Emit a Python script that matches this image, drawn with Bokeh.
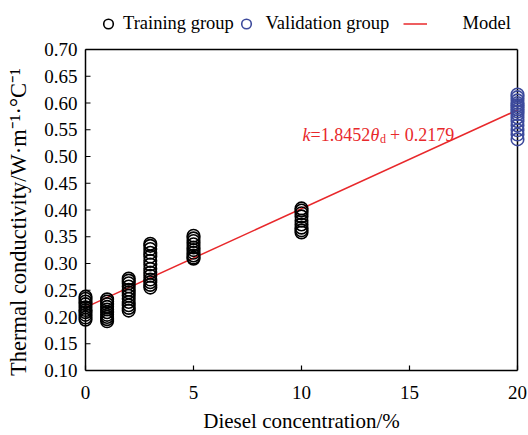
from bokeh.plotting import figure
from bokeh.models import Legend, LegendItem, FixedTicker
from bokeh.core.properties import value
from bokeh.embed import file_html
from bokeh.resources import INLINE

# ---------------- data ----------------
train_x0 = [0.238, 0.234, 0.229, 0.224, 0.218, 0.213, 0.209, 0.204, 0.199, 0.195]
train_x1 = [0.233, 0.229, 0.224, 0.219, 0.214, 0.209, 0.204, 0.200, 0.196, 0.192]
train_x2 = [0.272, 0.268, 0.263, 0.257, 0.251, 0.246, 0.240, 0.234, 0.228, 0.222, 0.217, 0.212]
train_x3 = [0.337, 0.333, 0.327, 0.320, 0.313, 0.305, 0.298, 0.290, 0.283, 0.277, 0.270, 0.265, 0.260, 0.255]
train_x5 = [0.352, 0.347, 0.342, 0.336, 0.330, 0.325, 0.320, 0.315, 0.311, 0.309]
train_x10 = [0.403, 0.399, 0.394, 0.388, 0.380, 0.373, 0.367, 0.362, 0.358]
train_conc = [0, 1, 2, 3, 5, 10]
valid_conc = 20
valid_vals = [0.616, 0.611, 0.605, 0.600, 0.596, 0.592, 0.588, 0.584, 0.579, 0.573,
              0.566, 0.558, 0.549, 0.541, 0.532]
model_x = [0, 20]
model_y = [0.2179, 0.5869]
x_ticks = [0, 5, 10, 15, 20]
y_ticks = [0.10, 0.15, 0.20, 0.25, 0.30, 0.35, 0.40, 0.45, 0.50, 0.55, 0.60, 0.65, 0.70]
y_tick_labels = ["0.10", "0.15", "0.20", "0.25", "0.30", "0.35", "0.40",
                 "0.45", "0.50", "0.55", "0.60", "0.65", "0.70"]

train_groups = [train_x0, train_x1, train_x2, train_x3, train_x5, train_x10]
tx, ty = [], []
for c, vals in zip(train_conc, train_groups):
    tx += [c] * len(vals)
    ty += vals
vx = [valid_conc] * len(valid_vals)

FONT = "Liberation Serif"
NB = "\u00a0"

# px per x unit = 21.6 ; px per y unit = 535
xpad = 8 / 21.6
ytop = 49 / 535.0   # room above the box for the legend
p = figure(frame_width=448, frame_height=370,
           x_range=(x_ticks[0] - xpad, x_ticks[-1] + xpad),
           y_range=(y_ticks[0], y_ticks[-1] + ytop),
           output_backend="svg", toolbar_location=None,
           min_border_left=77, min_border_right=3, min_border_top=0, min_border_bottom=65)
p.grid.visible = False
p.outline_line_color = None

for ax in (p.xaxis, p.yaxis):
    ax.axis_line_width = 1.5
    ax.axis_line_color = "black"
    ax.major_tick_in = 5
    ax.major_tick_out = 0
    ax.major_tick_line_width = 1.2
    ax.minor_tick_line_color = None
    ax.major_label_text_font = FONT
    ax.major_label_text_font_size = "19px"
    ax.major_label_text_color = "black"
    ax.axis_label_text_font = FONT
    ax.axis_label_text_font_style = "normal"
    ax.axis_label_text_color = "black"

p.xaxis.ticker = FixedTicker(ticks=x_ticks)
p.xaxis.bounds = (x_ticks[0], x_ticks[-1])
p.xaxis.axis_label_text_font_size = "21px"
p.yaxis.axis_label_text_font_size = "22.5px"
p.yaxis.ticker = FixedTicker(ticks=y_ticks)
p.yaxis.major_label_overrides = {t: l for t, l in zip(y_ticks, y_tick_labels)}
p.yaxis.axis_line_color = None
p.yaxis.major_tick_line_color = None
p.xaxis.major_label_standoff = 15
p.yaxis.major_label_standoff = 0
p.xaxis.axis_label = "Diesel concentration/%"
p.yaxis.axis_label = "Thermal conductivity/W\u00b7m\u207b\u00b9\u00b7\u00b0C\u207b\u00b9" + NB * 13
p.xaxis.axis_label_standoff = 7
p.yaxis.axis_label_standoff = 10

# box: left axis line, top and right edges
p.segment(x0=[x_ticks[0], x_ticks[0], x_ticks[-1]],
          y0=[y_ticks[0], y_ticks[-1], y_ticks[0]],
          x1=[x_ticks[0], x_ticks[-1], x_ticks[-1]],
          y1=[y_ticks[-1], y_ticks[-1], y_ticks[-1]],
          line_color="black", line_width=1.5)
# inward ticks on the left axis
p.ray(x=[x_ticks[0]] * len(y_ticks), y=y_ticks, length=5, length_units="screen",
      angle=0, line_color="black", line_width=1.2)

line_r = p.line(model_x, model_y, line_color="#e8282b", line_width=1.5)
tr = p.scatter(tx, ty, marker="circle", size=12.5, line_color="black", line_width=1.6,
               fill_color="white", fill_alpha=0.0)
vr = p.scatter(vx, valid_vals, marker="circle", size=12.5, line_color="#3d4a9c", line_width=1.6,
               fill_color="white", fill_alpha=0.0)

# equation annotation
eq_x, eq_y = 10.05, 0.541
red = "#e8282b"
parts = [("k", 0, "18px", "italic", 0),
         ("=1.8452", 8, "18px", "normal", 0),
         ("\u03b8", 68, "18px", "italic", 0),
         ("d", 77.5, "12px", "normal", 4),
         (NB + "+" + NB + "0.2179", 83, "18px", "normal", 0)]
for txt, off, fs, style, dy in parts:
    p.text(x=[eq_x], y=[eq_y], text=[txt], x_offset=off, y_offset=dy,
           text_font=value(FONT), text_font_size=fs, text_font_style=style,
           text_color=red, text_baseline="alphabetic", text_align="left")

legend = Legend(items=[LegendItem(label="Training group", renderers=[tr]),
                       LegendItem(label=NB + "Validation group" + NB * 3, renderers=[vr]),
                       LegendItem(label=NB * 7 + "Model", renderers=[line_r])],
                location=(19, 334), orientation="horizontal",
                glyph_width=24, glyph_height=25, label_standoff=3, spacing=0,
                label_text_font=FONT, label_text_font_size="18.5px",
                label_text_color="black",
                label_height=25, padding=0, margin=0,
                border_line_color=None, background_fill_alpha=0)
p.add_layout(legend, "center")

open("out.html", "w").write(file_html(p, INLINE))
